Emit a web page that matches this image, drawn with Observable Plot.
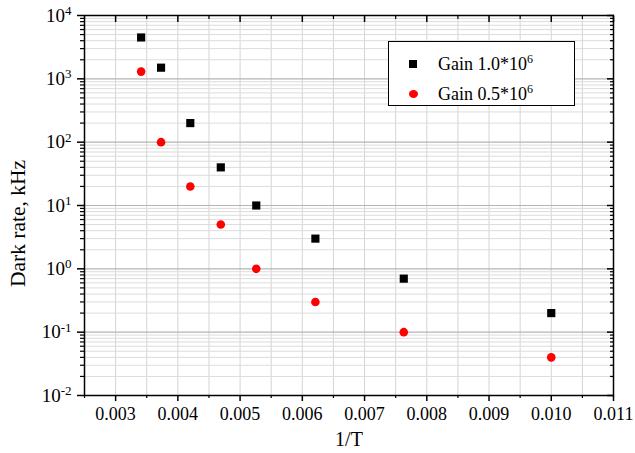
<!DOCTYPE html>
<html>
<head>
<meta charset="utf-8">
<script src="https://cdn.jsdelivr.net/npm/d3@7"></script>
<script src="https://cdn.jsdelivr.net/npm/@observablehq/plot@0.6"></script>
<style>
  html, body { margin: 0; padding: 0; background: #fff; }
  #wrap { position: relative; width: 635px; height: 453px; font-family: "Liberation Serif", "Times New Roman", serif; }
  #legend { position: absolute; left: 388px; top: 41px; width: 185px; height: 63px; border: 1.5px solid #000; background: #fff; font-size: 18px; color: #000; }
  .row { position: absolute; left: 0; height: 24px; line-height: 24px; }
  .row .txt { position: absolute; left: 49px; white-space: nowrap; }
  .row sup { font-size: 12px; vertical-align: 7px; line-height: 0; }
  .sq { position: absolute; left: 20px; top: 8px; width: 8px; height: 8px; background: #000; }
  .ci { position: absolute; left: 20px; top: 8px; width: 9px; height: 8px; border-radius: 50%; background: #ff0000; }
</style>
</head>
<body>
<div id="wrap">
  <div id="chart"></div>
  <div id="legend"></div>
</div>
<script>
// ---- data ----
const invT = [0.00341, 0.00373, 0.00420, 0.00469, 0.00526, 0.00621, 0.00763, 0.01000];
const gainHigh = [4500, 1500, 200, 40, 10, 3, 0.7, 0.2];     // Gain 1.0*10^6
const gainLow  = [1300, 100, 20, 5, 1, 0.3, 0.1, 0.04];      // Gain 0.5*10^6
const seriesNames = ["Gain 1.0*10", "Gain 0.5*10"];
const seriesExp = "6";
const xMajorTicks = [0.003, 0.004, 0.005, 0.006, 0.007, 0.008, 0.009, 0.010, 0.011];
const xMinorTicks = [0.0025, 0.0035, 0.0045, 0.0055, 0.0065, 0.0075, 0.0085, 0.0095, 0.0105];
const yMajorTicks = [0.01, 0.1, 1, 10, 100, 1000, 10000];
const yMinorTicks = [];
for (const d of yMajorTicks.slice(0, -1)) for (let m = 2; m <= 9; m++) yMinorTicks.push(+(m * d).toPrecision(3));

const high = invT.map((x, i) => ({x, y: gainHigh[i]}));
const low = invT.map((x, i) => ({x, y: gainLow[i]}));
const xGrid = [...xMajorTicks, ...xMinorTicks].filter(v => v > 0.0026 && v < 0.0109);

const font = "Liberation Serif, Times New Roman, serif";
const noLabel = () => "";

const chart = Plot.plot({
  width: 635,
  height: 453,
  marginLeft: 84,
  marginRight: 22,
  marginTop: 15,
  marginBottom: 58,
  style: {fontFamily: font, background: "#fff", color: "#000"},
  x: {domain: [0.0025, 0.011]},
  y: {type: "log", domain: [0.01, 10000]},
  marks: [
    Plot.ruleX(xGrid, {stroke: "#d4d4d4", strokeWidth: 1}),
    Plot.ruleY(yMinorTicks, {stroke: "#dcdcdc", strokeWidth: 1}),
    Plot.ruleY(yMajorTicks, {stroke: "#b4b4b4", strokeWidth: 1.2}),
    // bottom axis
    Plot.axisX({anchor: "bottom", ticks: xMajorTicks, tickSize: 6, tickPadding: 6, fontSize: 18,
      tickFormat: d3.format(".3f"), label: "1/T", labelAnchor: "center", labelArrow: "none", labelOffset: 50, strokeWidth: 1.5}),
    Plot.axisX({anchor: "bottom", ticks: xMinorTicks, tickSize: 3, tickFormat: noLabel, label: null, strokeWidth: 1.2}),
    // top axis (inward)
    Plot.axisX({anchor: "top", ticks: xMajorTicks, tickSize: -6, tickFormat: noLabel, label: null, strokeWidth: 1.5}),
    Plot.axisX({anchor: "top", ticks: xMinorTicks, tickSize: -3, tickFormat: noLabel, label: null, strokeWidth: 1.2}),
    // left axis
    Plot.axisY({anchor: "left", ticks: yMajorTicks, tickSize: 7, tickPadding: 6, fontSize: 19,
      tickFormat: d => "10^" + Math.round(Math.log10(d)), label: "Dark rate, kHz", labelAnchor: "center",
      labelArrow: "none", labelOffset: 75, strokeWidth: 1.5}),
    Plot.axisY({anchor: "left", ticks: yMinorTicks, tickSize: 4, tickFormat: noLabel, label: null, strokeWidth: 1.2}),
    // right axis (inward)
    Plot.axisY({anchor: "right", ticks: yMajorTicks, tickSize: -7, tickFormat: noLabel, label: null, strokeWidth: 1.5}),
    Plot.axisY({anchor: "right", ticks: yMinorTicks, tickSize: -4, tickFormat: noLabel, label: null, strokeWidth: 1.2}),
    Plot.frame({stroke: "#000", strokeWidth: 1.5}),
    Plot.dot(high, {x: "x", y: "y", symbol: "square", r: 4.6, fill: "#000", stroke: null}),
    Plot.dot(low, {x: "x", y: "y", symbol: "circle", r: 4.3, fill: "#ff0000", stroke: null})
  ]
});

// remove empty tick-label texts of the tick-only axes
d3.select(chart).selectAll('g[aria-label$="tick label"] text').filter(function () { return this.textContent === ""; }).remove();

// superscript exponents on y tick labels
d3.select(chart).selectAll('g[aria-label="y-axis tick label"] text').each(function () {
  const t = this.textContent;
  const parts = t.split("^");
  if (parts.length !== 2) return;
  const s = d3.select(this);
  s.text(parts[0]);
  s.append("tspan").attr("dy", "-0.5em").attr("font-size", "13px").text(parts[1]);
});
d3.select(chart).selectAll('g[aria-label="x-axis label"] text').attr("font-size", 20);
// y label: slightly larger, centred a little below the frame middle as in the reference
d3.select(chart).selectAll('g[aria-label="y-axis label"]')
  .attr("font-size", 21.5)
  .each(function () {
    const g = d3.select(this);
    const prev = g.attr("transform") || "";
    g.attr("transform", prev + " translate(0,18)");
  });

document.getElementById("chart").appendChild(chart);

// legend
const legend = document.getElementById("legend");
const markerClass = ["sq", "ci"];
seriesNames.forEach((name, i) => {
  const row = document.createElement("div");
  row.className = "row";
  row.style.top = (i === 0 ? 10 : 40) + "px";
  const m = document.createElement("div");
  m.className = markerClass[i];
  const t = document.createElement("span");
  t.className = "txt";
  t.textContent = name;
  const sup = document.createElement("sup");
  sup.textContent = seriesExp;
  t.appendChild(sup);
  row.appendChild(m);
  row.appendChild(t);
  legend.appendChild(row);
});
</script>
</body>
</html>
